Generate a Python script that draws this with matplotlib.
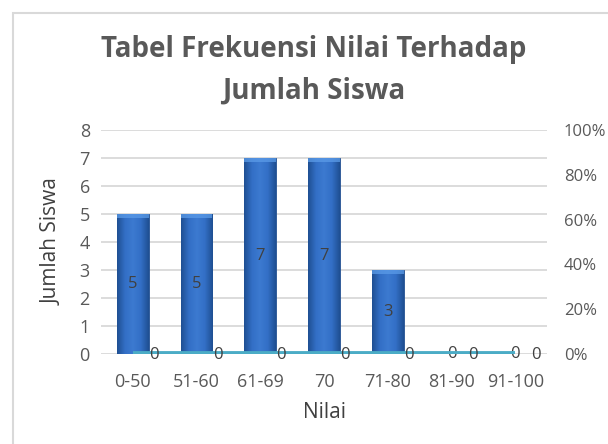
import matplotlib.pyplot as plt
import numpy as np
from matplotlib.patches import Rectangle
from matplotlib.colors import LinearSegmentedColormap

plt.rcParams['font.family'] = ['Open Sans', 'DejaVu Sans']

# data
kategori = ['0-50', '51-60', '61-69', '70', '71-80', '81-90', '91-100']
jumlah_siswa = [5, 5, 7, 7, 3, 0, 0]
persen = [0, 0, 0, 0, 0, 0, 0]   # line series on the right axis
y_ticks = [0, 1, 2, 3, 4, 5, 6, 7, 8]
pct_ticks = [0, 20, 40, 60, 80, 100]

fig = plt.figure(figsize=(6.08, 4.44), dpi=100)
ax = fig.add_axes([0.166, 0.203, 0.734, 0.504])

x = np.arange(len(kategori))
bars = ax.bar(x, jumlah_siswa, 0.5, color='#3570C4', edgecolor='#234F8F',
              linewidth=0.6, zorder=2)

# cylinder-ish gradient on each bar
cmap = LinearSegmentedColormap.from_list('bevel', ['#1F4F93', '#336FC6', '#3C7AD0', '#336FC6', '#1F4F93'])
grad = np.linspace(0, 1, 64).reshape(1, -1)
for b in bars:
    if b.get_height() <= 0:
        continue
    im = ax.imshow(grad, cmap=cmap, aspect='auto', zorder=2.5,
                   extent=(b.get_x(), b.get_x() + b.get_width(), 0, b.get_height()))
    im.set_clip_path(b)
    ax.add_patch(Rectangle((b.get_x(), b.get_height() - 0.14), b.get_width(), 0.14,
                           color='#5B9BE8', alpha=0.75, zorder=2.6, lw=0))

ax.set_xlim(-0.5, len(kategori) - 0.5)
ax.set_ylim(0, 8)
ax.set_yticks(y_ticks)
ax.set_xticks(x)
ax.set_xticklabels(kategori)
ax.grid(axis='y', color='#D9D9D9', lw=1.3, zorder=0)
ax.set_axisbelow(True)
for s in ax.spines.values():
    s.set_visible(False)
ax.tick_params(axis='y', length=0, labelsize=13, colors='#595959', pad=8)
ax.tick_params(axis='x', length=0, labelsize=13, colors='#595959', pad=14)
ax.set_ylabel('Jumlah Siswa', fontsize=15, color='#404040', labelpad=12)
ax.set_xlabel('Nilai', fontsize=15, color='#404040', labelpad=8)

for b, v in zip(bars, jumlah_siswa):
    ax.text(b.get_x() + b.get_width() / 2, v / 2, str(v), ha='center', va='center',
            fontsize=12, color='#404040', zorder=4)

ax2 = ax.twinx()
ax2.plot(x, persen, color='#4BACC6', lw=4.2, solid_capstyle='butt', zorder=3)
ax2.set_ylim(0, 100)
ax2.set_yticks(pct_ticks)
ax2.set_yticklabels([f'{p}%' for p in pct_ticks])
for s in ax2.spines.values():
    s.set_visible(False)
ax2.tick_params(length=0, labelsize=12, colors='#595959', pad=12)
for xi, p in zip(x, persen):
    ax2.text(xi + 0.33, p - 0.4, str(p), ha='center', va='center', fontsize=12,
             color='#404040', zorder=4)

fig.text(314 / 608, 1 - 50 / 444, 'Tabel Frekuensi Nilai Terhadap', ha='center', va='center',
         fontsize=20, fontweight='bold', color='#595959')
fig.text(314 / 608, 1 - 91 / 444, 'Jumlah Siswa', ha='center', va='center',
         fontsize=20, fontweight='bold', color='#595959')

fig.patches.append(Rectangle((13 / 608, -0.1), 1.2, 1.1 - 13 / 444, transform=fig.transFigure,
                             fill=False, edgecolor='#D9D9D9', lw=1.5))

fig.savefig('out.png', dpi=100)
